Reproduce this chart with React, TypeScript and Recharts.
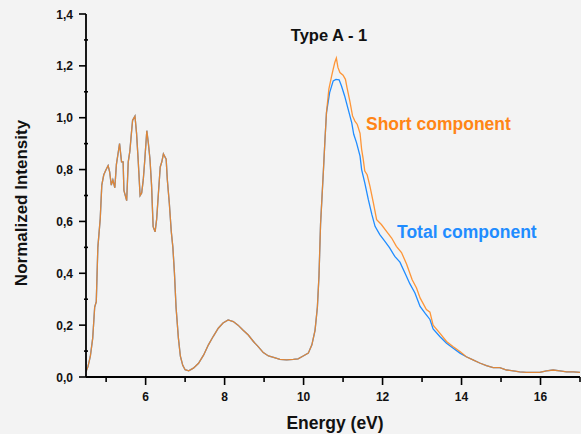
import { LineChart, Line, XAxis, YAxis } from "recharts";

// shared part of both spectra (curves overlap here)
const lowEnergy = [
  4.49, 4.54, 4.6, 4.66, 4.71, 4.75, 4.79, 4.85, 4.89, 4.94, 5.0, 5.05, 5.09, 5.13, 5.17, 5.22,
  5.26, 5.3, 5.34, 5.39, 5.43, 5.45, 5.52, 5.56, 5.6, 5.64, 5.67, 5.73, 5.77, 5.81, 5.86, 5.9,
  5.94, 5.98, 6.03, 6.07, 6.11, 6.15, 6.19, 6.24, 6.28, 6.32, 6.37, 6.41, 6.45, 6.52, 6.55, 6.6,
  6.65, 6.69, 6.73, 6.77, 6.83, 6.88, 6.94, 7.0, 7.09, 7.21, 7.34, 7.47, 7.59, 7.71, 7.84, 7.96,
  8.09, 8.22, 8.34, 8.47, 8.6, 8.73, 8.85, 8.98, 9.11, 9.24, 9.4, 9.57, 9.74, 9.86, 9.99, 10.12,
  10.21, 10.29, 10.35, 10.39, 10.43, 10.5, 10.54, 10.58,
];
const lowIntensity = [
  0.02, 0.04, 0.08, 0.15, 0.27, 0.29, 0.5, 0.61, 0.74, 0.78, 0.8, 0.815, 0.79, 0.74, 0.76, 0.73,
  0.82, 0.86, 0.9, 0.83, 0.83, 0.72, 0.68, 0.83, 0.87, 0.94, 0.99, 1.006, 0.94, 0.84, 0.7, 0.71,
  0.76, 0.84, 0.95, 0.9, 0.84, 0.74, 0.58, 0.56, 0.61, 0.7, 0.81, 0.83, 0.86, 0.84, 0.76, 0.67,
  0.56, 0.5, 0.4, 0.27, 0.15, 0.08, 0.045, 0.028, 0.024, 0.034, 0.053, 0.085, 0.124, 0.156, 0.188, 0.208,
  0.22, 0.214, 0.2, 0.18, 0.162, 0.137, 0.117, 0.094, 0.081, 0.076, 0.068, 0.066, 0.068, 0.07, 0.081, 0.092,
  0.124, 0.18, 0.27, 0.39, 0.59, 0.79, 0.91, 1.02,
];

// main peak, short component
const shortPeakEnergy = [
  10.64, 10.71, 10.75, 10.79, 10.83, 10.87, 10.92, 11.0, 11.06, 11.1, 11.17, 11.24, 11.3, 11.36,
  11.43, 11.47, 11.51, 11.55, 11.61, 11.68, 11.77, 11.85, 11.97, 12.1, 12.23, 12.35, 12.48, 12.61,
  12.75, 12.86, 12.95, 13.11, 13.2, 13.28, 13.45, 13.62, 13.79, 13.96, 14.12, 14.29,
];
const shortPeakIntensity = [
  1.11, 1.16, 1.187, 1.213, 1.23, 1.194, 1.174, 1.164, 1.148, 1.116, 1.065, 1.007, 0.987, 0.974,
  0.94, 0.878, 0.84, 0.794, 0.78, 0.736, 0.67, 0.607, 0.588, 0.562, 0.536, 0.504, 0.48, 0.435,
  0.375, 0.343, 0.305, 0.26, 0.25, 0.2, 0.169, 0.137, 0.117, 0.098, 0.078, 0.066,
];

// main peak, total component
const totalPeakEnergy = [
  10.66, 10.75, 10.82, 10.9, 10.96, 11.04, 11.13, 11.22, 11.27, 11.34, 11.43, 11.47, 11.55, 11.64,
  11.73, 11.81, 11.93, 12.06, 12.18, 12.31, 12.44, 12.57, 12.69, 12.82, 12.95, 13.08, 13.2, 13.28,
  13.45, 13.62, 13.79, 13.96, 14.12, 14.29,
];
const totalPeakIntensity = [
  1.097, 1.142, 1.148, 1.146, 1.122, 1.084, 1.032, 0.98, 0.936, 0.904, 0.852, 0.8, 0.749, 0.684,
  0.626, 0.581, 0.549, 0.523, 0.498, 0.465, 0.443, 0.4, 0.36, 0.324, 0.272, 0.245, 0.222, 0.185,
  0.156, 0.13, 0.111, 0.092, 0.078, 0.066,
];

// tail, shared
const tailEnergy = [
  14.46, 14.63, 14.8, 14.97, 15.14, 15.31, 15.47, 15.64, 15.81, 15.98, 16.15, 16.32, 16.49, 16.66,
  16.83, 17.0,
];
const tailIntensity = [
  0.054, 0.044, 0.036, 0.036, 0.027, 0.024, 0.02, 0.018, 0.018, 0.018, 0.024, 0.027, 0.024, 0.02,
  0.02, 0.018,
];

const xTicks = [5, 6, 7, 8, 9, 10, 11, 12, 13, 14, 15, 16, 17];
const yTicks = [0, 0.1, 0.2, 0.3, 0.4, 0.5, 0.6, 0.7, 0.8, 0.9, 1.0, 1.1, 1.2, 1.3, 1.4];
const yMajorTicks = [0, 0.2, 0.4, 0.6, 0.8, 1.0, 1.2, 1.4];

const toPoints = (e: number[], v: number[]) => e.map((energy, i) => ({ energy, intensity: v[i] }));

const shortData = [
  ...toPoints(lowEnergy, lowIntensity),
  ...toPoints(shortPeakEnergy, shortPeakIntensity),
  ...toPoints(tailEnergy, tailIntensity),
];
const totalData = [
  ...toPoints(lowEnergy, lowIntensity),
  ...toPoints(totalPeakEnergy, totalPeakIntensity),
  ...toPoints(tailEnergy, tailIntensity),
];

const FONT = '"Liberation Sans", Arial, sans-serif';
const ORANGE = "#ff8516";
const BLUE = "#1f8cff";

const XTick = ({ x, y, payload }: any) => {
  const v = payload.value;
  const major = v % 2 === 0;
  const ay = y - 10;
  return (
    <g>
      <line x1={x} x2={x} y1={ay} y2={ay + (major ? 8 : 5)} stroke="#000" strokeWidth={1.6} />
      {major && (
        <text x={x} y={ay + 24} textAnchor="middle" fontSize={12} fontWeight="bold" fill="#111" fontFamily={FONT}>
          {v}
        </text>
      )}
    </g>
  );
};

const YTick = ({ x, y, payload }: any) => {
  const v = payload.value;
  const major = yMajorTicks.some((t) => Math.abs(t - v) < 1e-6);
  const ax = x + 13;
  return (
    <g>
      {major ? (
        <line x1={ax - 7} x2={ax} y1={y} y2={y} stroke="#000" strokeWidth={1.6} />
      ) : (
        <line x1={ax - 2} x2={ax + 2} y1={y} y2={y} stroke="#000" strokeWidth={1.6} />
      )}
      {major && (
        <text x={ax - 13} y={y + 4.5} textAnchor="end" fontSize={12} fontWeight="bold" fill="#111" fontFamily={FONT}>
          {v.toFixed(1).replace(".", ",")}
        </text>
      )}
    </g>
  );
};

const textBase = {
  position: "absolute" as const,
  fontFamily: FONT,
  fontWeight: "bold" as const,
  whiteSpace: "nowrap" as const,
  lineHeight: "17px",
};

export default function App() {
  return (
    <div style={{ position: "absolute", left: 0, top: 0, width: 581, height: 434, background: "#f3f3f3", overflow: "hidden" }}>
      <LineChart width={581} height={434} margin={{ top: 14, right: 1, left: 0, bottom: 0 }}>
        <XAxis
          xAxisId={0}
          dataKey="energy"
          type="number"
          domain={[4.49, 17.0]}
          allowDataOverflow
          ticks={xTicks}
          height={57}
          tickSize={8}
          tickMargin={2}
          tickLine={false}
          tick={<XTick />}
          axisLine={{ stroke: "#000", strokeWidth: 1.8 }}
          interval={0}
        />
        <XAxis
          xAxisId="top"
          orientation="top"
          dataKey="energy"
          type="number"
          domain={[4.49, 17.0]}
          allowDataOverflow
          ticks={xTicks}
          height={0}
          mirror
          tickSize={3}
          tickFormatter={() => ""}
          tickLine={{ stroke: "#888" }}
          axisLine={{ stroke: "#888", strokeWidth: 1 }}
          interval={0}
        />
        <YAxis
          yAxisId={0}
          type="number"
          domain={[0, 1.4]}
          allowDataOverflow
          ticks={yTicks}
          width={86}
          tickSize={7}
          tickMargin={6}
          tickLine={false}
          tick={<YTick />}
          axisLine={{ stroke: "#000", strokeWidth: 1.8 }}
          interval={0}
        />
        <YAxis
          yAxisId="right"
          orientation="right"
          type="number"
          domain={[0, 1.4]}
          allowDataOverflow
          ticks={yTicks}
          width={0}
          mirror
          tickSize={3}
          tickFormatter={() => ""}
          tickLine={{ stroke: "#888" }}
          axisLine={{ stroke: "#888", strokeWidth: 1 }}
          interval={0}
        />
        <Line
          data={totalData}
          dataKey="intensity"
          type="linear"
          stroke={BLUE}
          strokeWidth={1.3}
          dot={false}
          isAnimationActive={false}
        />
        <Line
          data={shortData}
          dataKey="intensity"
          type="linear"
          stroke={ORANGE}
          strokeOpacity={0.85}
          strokeWidth={1.3}
          dot={false}
          isAnimationActive={false}
        />
      </LineChart>

      <div style={{ ...textBase, left: 329, top: 26.5, fontSize: 16.5, color: "#111", transform: "translateX(-50%)" }}>
        Type A - 1
      </div>
      <div style={{ ...textBase, left: 366, top: 116, fontSize: 17.5, color: ORANGE }}>Short component</div>
      <div style={{ ...textBase, left: 397, top: 223.5, fontSize: 17.5, color: BLUE }}>Total component</div>
      <div style={{ ...textBase, left: 335, top: 415, fontSize: 17.5, color: "#111", transform: "translateX(-50%)" }}>
        Energy (eV)
      </div>
      <div
        style={{
          ...textBase,
          left: 21,
          top: 203,
          fontSize: 17,
          color: "#111",
          transform: "translate(-50%, -50%) rotate(-90deg)",
        }}
      >
        Normalized Intensity
      </div>
    </div>
  );
}
